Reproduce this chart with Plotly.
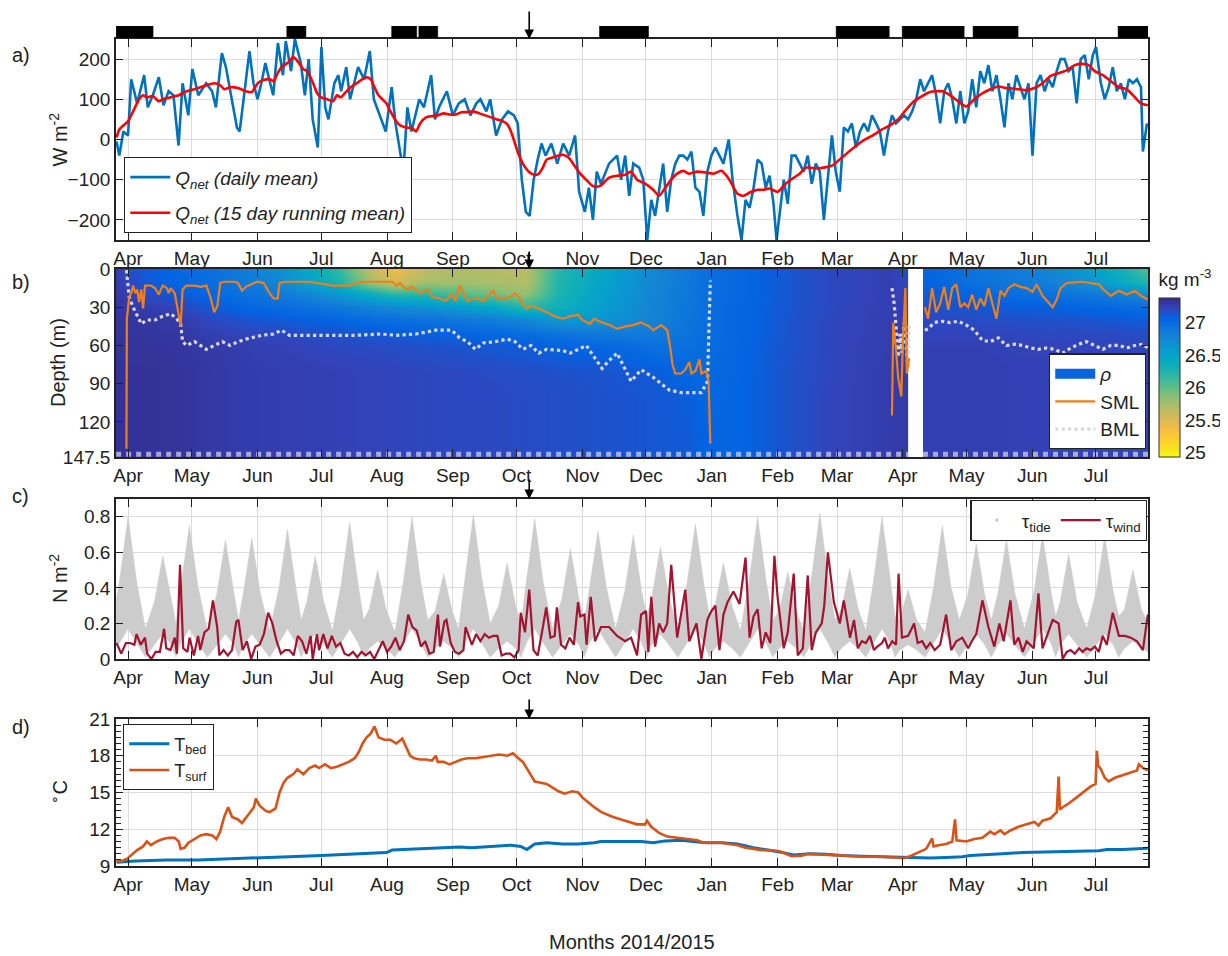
import plotly.graph_objects as go
from datetime import datetime, timedelta

# page is drawn inside a body with an 8px margin, so the figure is 8px smaller than the window on each axis
W, H = 1220, 948
BASE = datetime(2014, 4, 1)
X_START = "2014-03-26 08:00"
X_END = "2015-07-25 12:00"
ARROW_DAY = 189

# ---------------- data (days since 2014-04-01) ----------------
bar_start = [-5.6, 74.8, 124.2, 137.0, 222.1, 333.6, 364.7, 398.1, 466.4]
bar_end = [11.8, 83.8, 136.0, 145.9, 245.2, 358.6, 393.9, 419.3, 480.5]

qnet_days = [-5.4, -4.1, -2.2, 0, 1.5, 4.3, 7.6, 9.3, 11.7, 14.5, 16.7, 19.1, 21.4, 23.8, 25.7, 28.4, 30.3, 33.1,
             36.8, 39.6, 41.4, 44.2, 46.1, 48.9, 51.3, 52.6, 55.4, 57.2, 59.1, 61, 62.8, 64.7, 66.5, 68.4, 70.6, 73,
             74.3, 76.8, 78.6, 81.4, 83.3, 85.1, 87, 89.4, 91.1, 92.9, 94.4, 97.2, 99.1, 100.4, 102.8, 104.6, 106.5,
             108.4, 111.2, 113.9, 115.8, 118.6, 121.4, 124.2, 126, 129.7, 131.6, 133.5, 135.3, 137.2, 139.4, 142.8,
             144.6, 146.5, 150.2, 153, 155.8, 158.6, 161.3, 164.1, 166, 168.8, 170.6, 173.4, 176.2, 179, 181.8, 183.6,
             185.5, 187.4, 189.2, 191.1, 193, 194.8, 196.7, 199.4, 202.2, 205, 207.8, 210.6, 212.5, 215.2, 217.1, 219,
             220.8, 222.8, 226.6, 230.4, 232.3, 234.2, 236.1, 238, 240.8, 242.7, 244.6, 246.5, 248.3, 250.2, 252.1,
             254, 255.9, 257.8, 259.7, 261.6, 263.5, 265.4, 267.3, 269.2, 271, 272.9, 274.8, 276.7, 278.6, 280.5, 283,
             284.8, 287.1, 289, 290.9, 292.8, 294.7, 296.6, 298.5, 300.4, 302.2, 304.1, 305.5, 307, 308.9, 310.8,
             312.6, 314.5, 316.4, 318.3, 320.2, 322.1, 324, 325.9, 327.8, 329.7, 331.6, 333.4, 335.3, 337.2, 339.1,
             341, 342.9, 344.8, 346.7, 348.6, 350.5, 352.4, 354.2, 356.1, 358, 359.9, 361.8, 363.7, 365.6, 367.5,
             369.4, 371.3, 373.2, 375, 376.9, 378.8, 380.7, 382.6, 384.5, 386.4, 388.3, 390.2, 392.1, 394, 395.8,
             397.7, 399.6, 401.5, 403.4, 405.3, 407.2, 409.1, 411, 412.9, 414.8, 416.6, 418.5, 420.4, 422.3, 424.2,
             426.1, 428, 429.9, 431.8, 433.7, 435.6, 437.5, 439.3, 441.2, 443.1, 445, 446.9, 448.8, 450.7, 452.6,
             454.5, 456, 458.3, 460.1, 462, 463.9, 465.8, 467.7, 469.6, 471.5, 473.4, 475.3, 477.2, 478.1, 480]
qnet_vals = [-5, -40, 20, 10, 150, 90, 160, 80, 110, 155, 85, 120, 110, -15, 140, 60, 175, 110,
             140, 120, 80, 215, 180, 100, 30, 20, 150, 220, 140, 100, 140, 190, 150, 110, 240, 160,
             245, 170, 250, 190, 110, 200, 50, -20, 230, 80, 50, 140, 160, 120, 180, 100, 140,
             180, 150, 220, 100, 60, 20, 130, 40, -80, 80, 20, 60, 100, 80, 160,
             50, 80, 120, 60, 90, 100, 60, 90, 100, 70, 100, 10, 50, 70, 60, 40,
             -100, -180, -190, -100, -50, -10, -40, -10, -60, -10, -40, 10, -130, -180, -120, -200,
             -80, -110, -60, -40, -100, -40, -140, -60, -70, -100, -250, -150, -190, -120, -60,
             -180, -100, -60, -40, -40, -50, -30, -120, -130, -190, -80, -40, -20, -40, -60, 0,
             -100, -190, -250, -150, -170, -120, -50, -60, -120, -90, -160, -250, -180, -100, -160,
             -40, -40, -60, -80, -40, -110, -60, -80, -200, -100, 10, -80, -130, 30, 20,
             40, -20, 20, 40, 20, 60, 40, 20, -40, 20, 60, 40, 50, 60, 50,
             70, 100, 150, 120, 140, 160, 110, 40, 120, 140, 100, 40, 120, 40, 70,
             150, 80, 170, 140, 185, 120, 160, 100, 30, 140, 100, 160, 130, 100, 140,
             -40, 140, 160, 120, 150, 130, 170, 200, 200, 170, 180, 90, 200, 210, 150,
             210, 230, 140, 100, 130, 180, 120, 140, 100, 150, 140, 150, 130, -30, 40]

qrun_days = [-5.4, -4.1, -2.2, 0, 2.4, 5.2, 7.1, 8.9, 11.7, 14.5, 16.4, 20.1, 23.9, 27.6, 31.3, 34.1, 36.9, 40.6,
             43.4, 45.3, 48.1, 51.8, 55.5, 58.3, 61.1, 63.9, 66.7, 68.6, 70.5, 72.3, 75.1, 77.9, 79.8, 82.6, 84.4,
             87.2, 89.1, 91, 93.8, 96.6, 98.4, 100.3, 102.1, 104.9, 107.7, 110.5, 112.4, 114.3, 116.1, 118, 119.9,
             121.7, 123.6, 126.4, 128.2, 131, 133.8, 135.7, 137.6, 140.4, 143.2, 145.9, 148.7, 151.5, 154.3, 157.1,
             159.9, 162.7, 165.5, 168.3, 171.1, 173.9, 176.7, 178.6, 180.4, 182.3, 184.2, 186, 188.8, 191.6, 193.5,
             195.4, 197.2, 200, 202.8, 204.7, 207.5, 210.3, 213, 215.8, 218.6, 220.5, 222.8, 226.6, 230.4, 234.2,
             237, 239.8, 243.6, 247.4, 250.2, 253.1, 255.9, 258.7, 261.6, 264.4, 268.2, 272, 275.8, 279.6, 283.3,
             287.1, 290, 292.8, 296.6, 299.4, 302.2, 306, 309.8, 313.6, 316.4, 319.3, 324.9, 331.6, 336.3, 340.1,
             345.7, 351.4, 355.2, 359, 362.8, 366.5, 370.3, 374.1, 377.9, 383.6, 387.3, 391.1, 394.9, 398.7, 402.5,
             406.2, 410, 413.8, 419.5, 423.3, 427, 430.8, 434.6, 438.4, 442.2, 446, 449.7, 452.6, 455.4, 459.2, 463,
             466.8, 470.5, 474.3, 477.2, 480.4]
qrun_vals = [5, 25, 35, 45, 70, 100, 110, 105, 108, 95, 100, 105, 110, 120, 125, 130, 135, 140,
             135, 125, 130, 128, 120, 118, 140, 148, 150, 145, 165, 180, 190, 205, 195, 175, 170,
             140, 115, 105, 100, 95, 110, 105, 115, 130, 140, 150, 155, 150, 130, 110, 100,
             90, 70, 45, 35, 30, 28, 20, 40, 55, 58, 60, 65, 62, 62, 68,
             68, 70, 65, 60, 55, 50, 45, 38, 20, -10, -40, -60, -80, -88, -85,
             -70, -50, -45, -40, -38, -45, -65, -85, -100, -115, -118, -114, -95, -90, -88,
             -80, -100, -110, -125, -140, -120, -100, -85, -78, -85, -80, -82, -85, -78, -100,
             -135, -140, -132, -125, -125, -122, -130, -110, -95, -85, -70, -72, -65, -45, -28,
             -5, 12, 25, 35, 50, 74, 95, 108, 118, 120, 110, 95, 82, 100, 115,
             125, 132, 128, 125, 123, 128, 140, 158, 165, 172, 185, 188, 185, 170, 160, 145,
             130, 125, 105, 90, 85]

# density profiles: columns at rho_days, rows at rho_depths (kg m^-3)
rho_depths = [0, 10, 20, 30, 40, 50, 60, 80, 100, 147.5]
rho_days = [-6, 9, 24, 39, 54, 70, 85, 100, 115, 126, 141, 157, 172, 187, 202, 218, 233, 248, 263, 274,
            284, 299, 315, 330, 343, 358, 367, 374, 389, 404, 419, 435, 450, 465, 481]
rho_profiles = [
    [27.25, 27.27, 27.29, 27.30, 27.31, 27.32, 27.32, 27.33, 27.33, 27.33],
    [27.10, 27.12, 27.18, 27.26, 27.30, 27.31, 27.32, 27.33, 27.33, 27.33],
    [27.02, 27.05, 27.12, 27.22, 27.28, 27.30, 27.31, 27.32, 27.32, 27.32],
    [26.95, 26.98, 27.03, 27.12, 27.20, 27.25, 27.28, 27.29, 27.29, 27.29],
    [26.85, 26.88, 26.95, 27.05, 27.15, 27.22, 27.26, 27.27, 27.27, 27.27],
    [26.70, 26.75, 26.88, 27.00, 27.12, 27.20, 27.24, 27.26, 27.26, 27.26],
    [26.45, 26.50, 26.75, 26.95, 27.08, 27.17, 27.22, 27.25, 27.25, 27.25],
    [26.15, 26.25, 26.60, 26.88, 27.05, 27.15, 27.20, 27.24, 27.24, 27.24],
    [25.60, 25.75, 26.35, 26.78, 27.00, 27.12, 27.19, 27.23, 27.23, 27.23],
    [25.40, 25.55, 26.20, 26.72, 26.98, 27.10, 27.18, 27.22, 27.22, 27.22],
    [25.65, 25.75, 26.20, 26.65, 26.95, 27.08, 27.16, 27.21, 27.21, 27.21],
    [25.70, 25.75, 26.05, 26.55, 26.90, 27.05, 27.14, 27.20, 27.20, 27.20],
    [25.68, 25.72, 25.95, 26.45, 26.85, 27.02, 27.12, 27.19, 27.20, 27.20],
    [25.65, 25.68, 25.80, 26.20, 26.75, 26.98, 27.10, 27.18, 27.19, 27.19],
    [26.20, 26.22, 26.25, 26.32, 26.60, 26.92, 27.06, 27.16, 27.17, 27.17],
    [26.40, 26.42, 26.45, 26.50, 26.60, 26.88, 27.03, 27.15, 27.16, 27.16],
    [26.58, 26.60, 26.62, 26.64, 26.70, 26.85, 27.00, 27.13, 27.15, 27.15],
    [26.75, 26.76, 26.77, 26.78, 26.80, 26.86, 26.95, 27.10, 27.13, 27.13],
    [26.88, 26.88, 26.89, 26.90, 26.91, 26.93, 26.96, 27.04, 27.10, 27.12],
    [26.98, 26.98, 26.98, 26.99, 26.99, 27.00, 27.00, 27.02, 27.04, 27.06],
    [27.02, 27.02, 27.02, 27.03, 27.03, 27.03, 27.04, 27.04, 27.05, 27.05],
    [27.08, 27.08, 27.08, 27.09, 27.09, 27.09, 27.10, 27.10, 27.10, 27.10],
    [27.15, 27.15, 27.15, 27.15, 27.16, 27.16, 27.16, 27.17, 27.17, 27.17],
    [27.20, 27.20, 27.20, 27.20, 27.21, 27.21, 27.21, 27.21, 27.22, 27.22],
    [27.22, 27.22, 27.22, 27.23, 27.23, 27.23, 27.24, 27.24, 27.24, 27.24],
    [27.25, 27.25, 27.25, 27.25, 27.26, 27.26, 27.26, 27.27, 27.27, 27.27],
    [27.18, 27.20, 27.22, 27.24, 27.25, 27.26, 27.27, 27.27, 27.28, 27.28],
    [27.05, 27.08, 27.12, 27.16, 27.20, 27.22, 27.24, 27.25, 27.25, 27.25],
    [26.98, 27.00, 27.08, 27.15, 27.20, 27.22, 27.24, 27.25, 27.25, 27.25],
    [26.90, 26.93, 27.02, 27.12, 27.18, 27.22, 27.24, 27.25, 27.25, 27.25],
    [26.85, 26.88, 26.98, 27.10, 27.17, 27.21, 27.23, 27.24, 27.24, 27.24],
    [26.75, 26.80, 26.95, 27.08, 27.16, 27.20, 27.23, 27.24, 27.24, 27.24],
    [26.60, 26.68, 26.90, 27.05, 27.15, 27.20, 27.22, 27.23, 27.23, 27.23],
    [26.35, 26.45, 26.82, 27.02, 27.13, 27.19, 27.22, 27.23, 27.23, 27.23],
    [26.05, 26.20, 26.70, 26.98, 27.10, 27.18, 27.21, 27.22, 27.22, 27.22],
]
gap_days = [367.5, 374.5]

sml_days = [-0.75, -0.56, 0.56, 1.5, 2.4, 3.4, 4.3, 5.2, 6.2, 7.1, 8, 10.8, 12.7, 14.5, 15.5, 16.4, 18.3, 19.2, 20.1,
            22, 23.9, 24.8, 25.7, 27.6, 31.3, 34.1, 36.9, 38.8, 40.6, 42.1, 43.4, 45.3, 50, 51.8, 53.7, 55.5, 59.3,
            61.1, 63.9, 66.7, 68.6, 70.5, 71.4, 74.2, 85.4, 89.1, 96.6, 104, 107.7, 111.5, 124.5, 126.4, 128.2,
            131, 133.8, 137.6, 141.3, 143.2, 146.9, 149.7, 152.5, 154.3, 156.2, 158.1, 159.9, 163.7, 167.4, 169.2,
            172, 173.9, 176.7, 180.4, 182.3, 184.2, 186, 187.9, 189.8, 193.5, 197.2, 201, 204.7, 208.4, 212.1, 214,
            217.7, 219.6, 223.3, 227, 230.4, 234.2, 238, 241.7, 245.5, 247.4, 251.2, 254, 255.3, 256.5, 257.8,
            260.6, 262.5, 264.4, 265.4, 267.3, 269.2, 270.1, 272.4, 273.5, 274.3, None,
            359.9, 360.5, 361.8, 362.8, 364.3, 365, 366.2, 366.9, 368, None,
            375.4, 376.9, 378.8, 380.7, 382.6, 384.5, 386.4, 388.3, 390.2, 392.1, 394, 395.8, 397.7, 399.6, 401.5,
            403.4, 405.3, 407.2, 409.1, 411, 412.9, 414.8, 417.6, 420.4, 423.3, 426.1, 428, 430.8, 433.7, 435.6,
            437.5, 439.3, 442.2, 449.7, 457.3, 460.1, 463, 466.8, 470.5, 474.3, 477.2, 480.4]
sml_depth = [141, 39, 22, 19, 13, 19, 16, 26, 16, 31, 13, 13, 15, 20, 16, 13, 15, 19, 15,
             19, 36, 45, 16, 13, 13, 14, 13, 22, 34, 29, 11, 10, 10, 11, 17, 14, 11,
             10, 11, 19, 23, 23, 11, 10, 10, 11, 13, 13, 11, 10, 10, 13, 11,
             16, 14, 19, 16, 22, 23, 25, 20, 25, 13, 19, 25, 23, 25, 22,
             17, 23, 23, 22, 19, 22, 28, 31, 29, 31, 34, 37, 39, 37, 36, 40,
             43, 39, 42, 44, 47, 45, 44, 42, 45, 48, 44, 48, 60, 75, 82,
             82, 79, 73, 82, 80, 71, 82, 80, 88, 137, None,
             115, 42, 63, 85, 100, 57, 15, 82, 70, None,
             30, 39, 15, 34, 27, 14, 32, 15, 12, 30, 27, 30, 20, 32, 23,
             29, 15, 26, 39, 17, 21, 15, 12, 14, 15, 18, 12, 21, 27, 30,
             24, 15, 11, 10, 12, 17, 21, 17, 20, 17, 21, 24]

bml_days = [-0.75, 0.56, 2.4, 4.3, 6.2, 8.9, 12.7, 16.4, 20.1, 22.9, 24.8, 25.7, 27.6, 31.3, 36.9, 40.6, 44.4, 48.1,
            51.8, 55.5, 63, 68.6, 72.3, 76, 89.1, 107.7, 118.9, 126.4, 135.7, 145, 152.5, 156.2, 159.9, 163.7, 167.4,
            173, 178.6, 182.3, 186, 189.8, 193.5, 197.2, 204.7, 208.4, 215.9, 219.6, 223.3, 226.5, 230.4, 237,
            241.7, 247.4, 255, 260.6, 270.1, 273, 273.9, 274.3, None,
            359.9, 360.9, 361.8, 362.8, 363.7, 364.6, 365.6, 366.5, 367.5, 368, None,
            375.4, 376.9, 379.8, 383.6, 387.3, 391.1, 394.9, 398.7, 402.5, 406.2, 410, 413.8, 417.6, 421.4, 425.2,
            428.9, 432.7, 436.5, 440.3, 444.1, 447.9, 451.6, 455.4, 459.2, 463, 466.8, 470.5, 474.3, 478.1, 480.4]
bml_depth = [1, 22, 30, 36, 43, 40, 40, 37, 35, 39, 43, 57, 60, 57, 63, 60, 57, 60,
             57, 55, 52, 51, 48, 52, 52, 52, 51, 52, 51, 48, 48, 54, 57, 63, 58,
             57, 55, 57, 63, 60, 66, 63, 64, 66, 60, 69, 78, 72, 66, 88,
             79, 85, 95, 97, 97, 88, 40, 9, None,
             15, 27, 45, 69, 51, 66, 42, 57, 79, 42, None,
             48, 47, 42, 41, 42, 41, 44, 48, 56, 57, 54, 60, 59, 60, 62,
             63, 62, 63, 66, 62, 59, 57, 60, 63, 60, 60, 62, 60, 59, 62]

bed_mark_days = [-5.6, 367.5, None, 374.5, 480.5]
bed_mark_depth = [145.3, 145.3, None, 145.3, 145.3]

tide_days = [-5.6, -4, 0, 4, 8.2, 12.4, 16.4, 20.4, 22.6, 24.9, 28.9, 32.9, 37.4, 41.9, 45.9, 49.9, 52.1, 54.3,
             58.3, 62.3, 66.7, 71.1, 75.1, 79.1, 81.6, 84.2, 88.2, 92.2, 96.3, 100.4, 104.4, 108.4, 111, 113.6,
             117.6, 121.6, 125.7, 129.8, 133.8, 137.8, 141.2, 144.7, 148.7, 152.7, 155.7, 158.7, 162.7, 166.7,
             170.6, 174.6, 178.6, 182.6, 185.1, 187.6, 191.6, 195.6, 200, 204.4, 208.4, 212.4, 214.9, 217.4, 221.4,
             225.4, 229.7, 234, 238, 242, 244.4, 246.8, 250.8, 254.8, 259, 263.3, 267.3, 271.3, 273.9, 276.5,
             280.5, 284.5, 288.5, 292.6, 296.6, 300.6, 303.7, 306.8, 310.8, 314.8, 318.3, 321.9, 325.9, 329.9, 333,
             336, 340, 344, 347.6, 351.2, 355.2, 359.2, 361.3, 363.5, 367.5, 371.5, 375.5, 379.6, 383.6, 387.6,
             391.6, 395.6, 399.6, 403.6, 406.7, 409.8, 413.8, 417.8, 422.3, 426.8, 430.8, 434.8, 437, 439.1, 443.1,
             447.1, 451.6, 456.1, 460.1, 464.1, 466.7, 469.4, 473.4, 477.4, 480.5]
tide_upper = [0.33, 0.44, 0.80, 0.44, 0.17, 0.32, 0.58, 0.32, 0.20, 0.41, 0.75, 0.41, 0.16, 0.37, 0.67, 0.37, 0.22,
              0.37, 0.68, 0.37, 0.16, 0.40, 0.73, 0.40, 0.22, 0.32, 0.58, 0.32, 0.16, 0.42, 0.77, 0.42, 0.22, 0.28,
              0.50, 0.28, 0.15, 0.44, 0.80, 0.44, 0.22, 0.27, 0.48, 0.27, 0.17, 0.45, 0.81, 0.45,
              0.20, 0.30, 0.54, 0.30, 0.20, 0.43, 0.79, 0.43, 0.17, 0.34, 0.62, 0.34, 0.22, 0.40, 0.72,
              0.40, 0.17, 0.38, 0.70, 0.38, 0.24, 0.35, 0.63, 0.35, 0.17, 0.42, 0.76, 0.42, 0.24, 0.30,
              0.54, 0.30, 0.16, 0.44, 0.80, 0.44, 0.22, 0.27, 0.49, 0.27, 0.16, 0.45, 0.82, 0.45, 0.22,
              0.28, 0.51, 0.28, 0.16, 0.44, 0.80, 0.44, 0.24, 0.22, 0.39, 0.22, 0.15, 0.41, 0.75, 0.41,
              0.22, 0.36, 0.65, 0.36, 0.22, 0.37, 0.67, 0.37, 0.17, 0.38, 0.70, 0.38, 0.24, 0.32, 0.59,
              0.32, 0.17, 0.38, 0.69, 0.38, 0.24, 0.28, 0.50, 0.28, 0.20]
tide_lower = [0.08, 0.09, 0.17, 0.09, 0.01, 0.08, 0.14, 0.08, 0.01, 0.09, 0.17, 0.09, 0.01, 0.08, 0.14, 0.08, 0.01,
              0.08, 0.14, 0.08, 0.01, 0.09, 0.17, 0.09, 0.01, 0.08, 0.14, 0.08, 0.01, 0.09, 0.17, 0.09, 0.01, 0.06,
              0.10, 0.06, 0.01, 0.09, 0.17, 0.09, 0.01, 0.06, 0.10, 0.06, 0.01, 0.09, 0.17, 0.09,
              0.01, 0.06, 0.10, 0.06, 0.01, 0.09, 0.17, 0.09, 0.01, 0.08, 0.14, 0.08, 0.01, 0.09, 0.17,
              0.09, 0.01, 0.09, 0.17, 0.09, 0.01, 0.08, 0.14, 0.08, 0.01, 0.09, 0.17, 0.09, 0.01, 0.06,
              0.10, 0.06, 0.01, 0.09, 0.17, 0.09, 0.01, 0.06, 0.10, 0.06, 0.01, 0.09, 0.17, 0.09, 0.01,
              0.06, 0.10, 0.06, 0.01, 0.09, 0.17, 0.09, 0.01, 0.05, 0.08, 0.05, 0.01, 0.09, 0.17, 0.09,
              0.01, 0.08, 0.14, 0.08, 0.01, 0.08, 0.14, 0.08, 0.01, 0.09, 0.17, 0.09, 0.01, 0.08, 0.14,
              0.08, 0.01, 0.08, 0.14, 0.08, 0.01, 0.06, 0.10, 0.06, 0.04]

wind_days = [-5.4, -3.2, -1, 1, 3, 4, 6, 8, 9, 11, 13, 15, 17, 18, 20, 22, 23, 24.5, 26, 28, 29, 31, 33, 34, 36, 38,
             40, 42, 43, 45, 47, 49, 51, 52, 54, 56, 58, 60, 62, 64, 66, 68, 70, 72, 74, 76, 78, 80, 82, 84, 86, 87,
             89, 90, 92, 94, 96, 98, 100, 102, 104, 106, 108, 110, 112, 114, 116, 118, 120, 122, 124, 126, 128, 130,
             132, 134, 136, 138, 140, 142, 144, 146, 147, 149, 150, 152, 154, 156, 158, 159, 161, 162, 164, 166,
             168, 170, 172, 174, 176, 178, 180, 182, 184, 185, 187, 189, 191, 193, 195, 197, 199, 201, 202, 204,
             206, 208, 210, 212, 213, 215, 216, 218, 220, 222.8, 226.6, 230.4, 234.2, 237, 239.8, 241.7, 244,
             245.1, 246.5, 248.3, 250.2, 252.1, 254, 255.9, 258.7, 260.6, 262.5, 264.4, 267.8, 270.1, 272.9, 274.8,
             276.7, 278.6, 280.5, 282.4, 285.2, 288.1, 290.9, 292.8, 294.7, 296.6, 298.5, 300.4, 302.6, 304.5, 306,
             308.9, 310.8, 313.6, 315.5, 317.9, 320.2, 322.1, 324, 326.8, 328, 329.7, 332.5, 335.3, 337.2, 340.1,
             342, 343.8, 345.7, 347.6, 349.5, 351.4, 353, 355.2, 356.5, 358, 360, 361.8, 363, 364.6, 367.5, 370.3,
             372, 374.1, 376, 377.9, 380, 382.6, 385.4, 387.8, 390.2, 393, 395.8, 397.5, 399.6, 402.5, 405.3, 408.1,
             410.5, 412.5, 415.7, 417.5, 419.5, 421.5, 423.3, 426.7, 428.9, 430.8, 433.7, 435.6, 438.4, 440.3, 442.2,
             444, 446, 448, 449.7, 451.5, 453.5, 455.5, 457.3, 459.2, 461.1, 463.9, 466.8, 469.6, 472.4, 475.3,
             478.1, 480.4]
wind_vals = [0.09, 0.03, 0.09, 0.09, 0.08, 0.14, 0.08, 0.12, 0.03, 0.0, 0.04, 0.04, 0.17, 0.06, 0.05, 0.12, 0.03,
             0.53, 0.06, 0.04, 0.12, 0.02, 0.13, 0.05, 0.15, 0.17, 0.33, 0.18, 0.02, 0.05, 0.02, 0.05, 0.21, 0.22,
             0.05, 0.10, 0.0, 0.07, 0.08, 0.14, 0.26, 0.20, 0.10, 0.03, 0.05, 0.05, 0.02, 0.13, 0.10, 0.03, 0.13,
             0.0, 0.14, 0.05, 0.14, 0.06, 0.13, 0.07, 0.09, 0.03, 0.02, 0.04, 0.01, 0.04, 0.02, 0.04, 0.0, 0.05,
             0.10, 0.04, 0.07, 0.12, 0.05, 0.10, 0.25, 0.18, 0.16, 0.07, 0.10, 0.03, 0.04, 0.25, 0.07, 0.21, 0.22,
             0.09, 0.04, 0.03, 0.05, 0.18, 0.12, 0.08, 0.14, 0.10, 0.14, 0.12, 0.13, 0.13, 0.02, 0.03, 0.03, 0.01,
             0.05, 0.26, 0.15, 0.39, 0.05, 0.02, 0.15, 0.29, 0.12, 0.13, 0.29, 0.08, 0.06, 0.12, 0.08, 0.32, 0.24,
             0.25, 0.08, 0.35, 0.10, 0.18, 0.18, 0.13, 0.10, 0.12, 0.02, 0.25, 0.27, 0.04, 0.35, 0.07, 0.20, 0.15,
             0.20, 0.53, 0.12, 0.25, 0.39, 0.10, 0.20, 0.0, 0.22, 0.27, 0.30, 0.05, 0.25, 0.32, 0.38, 0.31, 0.57,
             0.12, 0.24, 0.28, 0.06, 0.15, 0.09, 0.58, 0.35, 0.06, 0.15, 0.48, 0.02, 0.06, 0.47, 0.05, 0.15, 0.20,
             0.30, 0.60, 0.32, 0.20, 0.33, 0.12, 0.22, 0.06, 0.10, 0.09, 0.13, 0.05, 0.07, 0.09, 0.12, 0.06, 0.10,
             0.08, 0.48, 0.12, 0.13, 0.20, 0.09, 0.10, 0.06, 0.09, 0.05, 0.08, 0.25, 0.05, 0.10, 0.12, 0.06, 0.10,
             0.14, 0.33, 0.18, 0.07, 0.20, 0.10, 0.33, 0.08, 0.12, 0.04, 0.10, 0.06, 0.37, 0.06, 0.15, 0.22, 0.20,
             0.0, 0.04, 0.05, 0.03, 0.06, 0.04, 0.06, 0.05, 0.07, 0.04, 0.13, 0.08, 0.26, 0.13, 0.13, 0.12, 0.10,
             0.05, 0.25, 0.20]

tsurf_days = [-5.4, -3.2, -0.4, 1.5, 4.3, 7.1, 8.9, 10.8, 13.6, 16.4, 19.2, 22, 23.9, 24.8, 26.7, 28.5, 31.3, 34.1,
              36.9, 39.7, 41.6, 43.4, 45.3, 47.2, 49, 51.8, 53.7, 56.5, 59.3, 60.2, 62.1, 64.9, 66.7, 69.5, 71.4,
              73.3, 75.1, 77.9, 79.8, 82.6, 85.4, 88.2, 90, 92.8, 95.6, 98.4, 101.2, 104, 106.8, 108.7, 110.5, 112.4,
              114.3, 116.1, 118, 120.8, 123.6, 126.4, 129.2, 131, 132.9, 134.8, 137.6, 140.4, 143.2, 145, 145.9,
              148.7, 151.5, 154.3, 157.1, 159.9, 163.7, 167.4, 171.1, 174.8, 178.6, 181.4, 183.2, 186, 188.8, 191.6,
              194.4, 197.2, 200, 202.8, 205.6, 209.3, 212.1, 214, 216.8, 219.6, 223, 228.5, 234.2, 239.8, 243.6,
              244.5, 246.5, 250.2, 254, 258.7, 263.5, 268.2, 271, 274.8, 279.6, 283.3, 287.1, 290.9, 294.7, 298.5,
              302.2, 307, 309.8, 312.6, 317.4, 320.2, 324.9, 330.6, 336.3, 342, 347.6, 355.2, 362.8, 365.6, 368.4,
              372.2, 376, 378.8, 379.5, 381.7, 385.4, 388.3, 389.6, 390.3, 394.9, 398.7, 402.5, 406.2, 408.1, 411,
              412.9, 415.7, 419.5, 423.3, 427, 428.9, 430.8, 434.6, 437.5, 438.4, 439, 440.3, 443.1, 446.9, 449.7,
              453.5, 455.8, 456.4, 457, 458.3, 460.1, 462, 464.9, 468.7, 472.4, 475.3, 476.2, 478.1, 480.4]
tsurf_vals = [9.4, 9.4, 9.6, 9.9, 10.3, 10.6, 11.0, 10.7, 11.0, 11.2, 11.3, 11.3, 11.0, 10.4, 10.5, 10.9, 11.2, 11.5,
              11.6, 11.5, 11.2, 11.8, 13.0, 13.8, 13.0, 12.8, 12.5, 13.2, 13.8, 14.5, 13.9, 13.5, 13.4, 13.7, 15.0,
              15.8, 16.2, 16.5, 16.9, 16.5, 17.0, 17.2, 17.0, 17.3, 17.0, 17.1, 17.3, 17.5, 17.8, 18.3, 19.0, 19.5,
              19.8, 20.4, 19.5, 19.3, 19.3, 19.0, 19.4, 18.7, 18.0, 17.8, 17.7, 17.7, 17.6, 18.0, 17.5,
              17.5, 17.3, 17.5, 17.7, 17.8, 17.8, 17.9, 18.0, 18.1, 18.0, 18.2, 17.9, 17.5, 16.7, 15.9,
              15.8, 15.7, 15.4, 15.1, 14.9, 15.1, 15.0, 14.6, 14.2, 13.8, 13.4, 13.0, 12.7, 12.4, 12.4,
              12.7, 12.2, 11.7, 11.4, 11.3, 11.2, 11.1, 10.9, 10.9, 10.9, 10.8, 10.7, 10.5, 10.4, 10.3,
              10.3, 10.2, 10.0, 9.8, 9.85, 10.0, 9.95, 9.9, 9.8, 9.75, 9.75, 9.75, 9.7, 9.65, 9.8,
              10.1, 10.4, 11.25, 10.6, 10.7, 10.8, 11.0, 12.8, 11.1, 11.0, 11.2, 11.3, 11.8, 11.6, 11.9,
              11.6, 11.9, 12.2, 12.4, 12.6, 12.3, 12.7, 12.9, 13.4, 16.3, 13.6, 13.8, 14.1, 14.6, 15.0,
              15.5, 15.7, 18.4, 17.2, 16.9, 16.2, 15.9, 16.2, 16.4, 16.6, 16.8, 17.3, 17.0, 16.8]

tbed_days = [-5.4, 3.4, 18.3, 33.2, 48.1, 61.1, 76, 91, 104, 118.9, 121.7, 124.5, 137.6, 148.7, 156.2, 161.8, 169.2,
             180.4, 185.1, 187.9, 191.6, 197.2, 204.7, 212.1, 219.6, 222.8, 232.3, 241.7, 247.4, 253.1, 260.6, 268.2,
             272, 279.6, 287.1, 294.7, 302.2, 309.8, 313.6, 321.2, 328.7, 336.3, 345.7, 355.2, 366.5, 372.2, 377.9,
             385.4, 393, 396.8, 404.4, 411.9, 421.4, 430.8, 440.3, 449.7, 457.3, 461.1, 468.7, 480.4]
tbed_vals = [9.3, 9.4, 9.5, 9.5, 9.6, 9.65, 9.75, 9.85, 9.95, 10.05, 10.1, 10.3, 10.4, 10.5, 10.55, 10.5, 10.6,
             10.7, 10.6, 10.35, 10.8, 10.9, 10.8, 10.8, 10.9, 11.0, 11.0, 11.0, 10.9, 11.05, 11.1, 11.0,
             10.9, 10.9, 10.8, 10.5, 10.3, 10.05, 9.9, 10.0, 9.95, 9.85, 9.8, 9.75, 9.75, 9.7, 9.65,
             9.7, 9.75, 9.85, 9.95, 10.0, 10.1, 10.15, 10.15, 10.2, 10.25, 10.35, 10.35, 10.45]

rho_ticks = [25, 25.5, 26, 26.5, 27]


# ---------------- helpers ----------------
def to_dates(days):
    return [None if d is None else BASE + timedelta(days=d) for d in days]


def dom(top_px, bot_px):
    return [1 - bot_px / H, 1 - top_px / H]


def py(px):
    return 1 - px / H


ML, MR = 108, 80
PW = W - ML - MR


def pxx(px):
    return (px - ML) / PW


# panel pixel boxes (top, bottom) in figure pixels
BOX_BAR = (18, 30)
BOX_A = (31, 232)
BOX_B = (261, 449)
BOX_C = (491, 651)
BOX_D = (711, 858)

parula = [
    (0.000, (0.2081, 0.1663, 0.5292)), (0.063, (0.1959, 0.2645, 0.7279)), (0.127, (0.0117, 0.3875, 0.8820)),
    (0.190, (0.0498, 0.4586, 0.8641)), (0.254, (0.0793, 0.5200, 0.8312)), (0.317, (0.0343, 0.5966, 0.8199)),
    (0.381, (0.0228, 0.6535, 0.7768)), (0.444, (0.0843, 0.6928, 0.7062)), (0.508, (0.2178, 0.7250, 0.6193)),
    (0.571, (0.3953, 0.7459, 0.5244)), (0.635, (0.5709, 0.7485, 0.4494)), (0.698, (0.7184, 0.7411, 0.3905)),
    (0.762, (0.8507, 0.7299, 0.3360)), (0.825, (0.9739, 0.7314, 0.2666)), (0.889, (0.9880, 0.8066, 0.1794)),
    (0.952, (0.9589, 0.8949, 0.1132)), (1.000, (0.9763, 0.9831, 0.0538)),
]
cscale = sorted([(round(1 - t, 3), "rgb(%d,%d,%d)" % tuple(int(round(c * 255)) for c in rgb)) for t, rgb in parula])

FONT = "Liberation Sans, Arial, sans-serif"
TXT = "#222222"

fig = go.Figure()

# ---- deployment bars (top strip) ----
bx, byy = [], []
for s, e in zip(bar_start, bar_end):
    bx += [s, s, e, e, s, None]
    byy += [0, 1, 1, 0, 0, None]
fig.add_trace(go.Scatter(x=to_dates(bx), y=byy, xaxis="x5", yaxis="y5", mode="lines", fill="toself",
                         fillcolor="black", line=dict(color="black", width=0.5), showlegend=False,
                         hoverinfo="skip"))

# ---- panel a ----
fig.add_trace(go.Scatter(x=to_dates(qnet_days), y=qnet_vals, xaxis="x", yaxis="y", mode="lines",
                         line=dict(color="#0072BD", width=2.6), legendgroup="qa",
                         name="<i>Q<sub>net</sub> (daily mean)</i>", legend="legend"))
fig.add_trace(go.Scatter(x=to_dates(qrun_days), y=qrun_vals, xaxis="x", yaxis="y", mode="lines",
                         line=dict(color="#FF0000", width=2.6, shape="spline", smoothing=0.6), legendgroup="qb",
                         name="<i>Q<sub>net</sub> (15 day running mean)</i>", legend="legend"))

# ---- panel b ----
zT = [[rho_profiles[j][i] for j in range(len(rho_days))] for i in range(len(rho_depths))]
hb = dom(*BOX_B)
fig.add_trace(go.Heatmap(x=to_dates(rho_days), y=rho_depths, z=zT, xaxis="x2", yaxis="y2",
                         colorscale=cscale, zmin=24.93, zmax=27.38, zsmooth="best", showscale=True,
                         hoverinfo="skip",
                         colorbar=dict(x=1.0, xanchor="left", xpad=11, ypad=0,
                                       y=(hb[0] + hb[1]) / 2, yanchor="middle",
                                       len=hb[1] - hb[0], lenmode="fraction",
                                       thickness=21, outlinecolor="#333", outlinewidth=1,
                                       tickvals=rho_ticks, ticktext=[str(v) for v in rho_ticks],
                                       ticks="", tickfont=dict(size=19, color=TXT, family=FONT),
                                       title=dict(text="kg m<sup>-3</sup>", side="top",
                                                  font=dict(size=19, color=TXT, family=FONT)))))
gx = [gap_days[0], gap_days[0], gap_days[1], gap_days[1], gap_days[0]]
fig.add_trace(go.Scatter(x=to_dates(gx), y=[0, 147.5, 147.5, 0, 0], xaxis="x2", yaxis="y2", mode="lines",
                         fill="toself", fillcolor="white", line=dict(color="white", width=0),
                         showlegend=False, hoverinfo="skip"))
fig.add_trace(go.Scatter(x=to_dates(bed_mark_days), y=bed_mark_depth, xaxis="x2", yaxis="y2", mode="lines",
                         line=dict(color="rgba(215,215,235,0.7)", width=5, dash="dot"),
                         showlegend=False, hoverinfo="skip"))
fig.add_trace(go.Scatter(x=[None], y=[None], xaxis="x2", yaxis="y2", mode="lines",
                         line=dict(color="#0A64DC", width=22), name="<i>ρ</i>", legend="legend2", legendrank=1))
fig.add_trace(go.Scatter(x=to_dates(bml_days), y=bml_depth, xaxis="x2", yaxis="y2", mode="lines",
                         line=dict(color="#D9D9D9", width=3.2, dash="dot"), name="BML", legend="legend2",
                         legendrank=3, connectgaps=False))
fig.add_trace(go.Scatter(x=to_dates(sml_days), y=sml_depth, xaxis="x2", yaxis="y2", mode="lines",
                         line=dict(color="#EE7F1A", width=2.2), name="SML", legend="legend2",
                         legendrank=2, connectgaps=False))

# ---- panel c ----
fig.add_trace(go.Scatter(x=to_dates(tide_days), y=tide_lower, xaxis="x3", yaxis="y3", mode="lines",
                         line=dict(color="#CCCCCC", width=0.5), showlegend=False, hoverinfo="skip"))
fig.add_trace(go.Scatter(x=to_dates(tide_days), y=tide_upper, xaxis="x3", yaxis="y3", mode="lines",
                         line=dict(color="#CCCCCC", width=0.5), fill="tonexty", fillcolor="#CCCCCC",
                         showlegend=False, hoverinfo="skip"))
fig.add_trace(go.Scatter(x=[None], y=[None], xaxis="x3", yaxis="y3", mode="markers",
                         marker=dict(color="#BBBBBB", size=3), name="τ<sub>tide</sub>", legend="legend3"))
fig.add_trace(go.Scatter(x=to_dates(wind_days), y=wind_vals, xaxis="x3", yaxis="y3", mode="lines",
                         line=dict(color="#A2142F", width=2.2), name="τ<sub>wind</sub>", legend="legend3"))

# ---- panel d ----
fig.add_trace(go.Scatter(x=to_dates(tbed_days), y=tbed_vals, xaxis="x4", yaxis="y4", mode="lines",
                         line=dict(color="#0072BD", width=3), name="T<sub>bed</sub>", legend="legend4"))
fig.add_trace(go.Scatter(x=to_dates(tsurf_days), y=tsurf_vals, xaxis="x4", yaxis="y4", mode="lines",
                         line=dict(color="#D95319", width=2.6), name="T<sub>surf</sub>", legend="legend4"))

# ---------------- axes ----------------
xcommon = dict(type="date", range=[X_START, X_END], dtick="M1", tick0="2014-04-01", tickformat="%b",
               ticks="inside", ticklen=8, tickwidth=1.4, tickcolor="#222", showline=True, linecolor="#222",
               linewidth=1.6, mirror="allticks", gridcolor="#DCDCDC", gridwidth=1, zeroline=False,
               automargin=False, domain=[0, 1], tickfont=dict(size=19, color=TXT, family=FONT))
ycommon = dict(ticks="inside", ticklen=7, tickwidth=1.4, tickcolor="#222", showline=True, linecolor="#222",
               linewidth=1.6, mirror="allticks", gridcolor="#DCDCDC", gridwidth=1, zeroline=False,
               automargin=False, tickfont=dict(size=19, color=TXT, family=FONT))

layout = dict(
    width=W, height=H, paper_bgcolor="white", plot_bgcolor="white",
    margin=dict(l=ML, r=MR, t=0, b=0, autoexpand=False),
    font=dict(family=FONT, color=TXT, size=19),
    xaxis=dict(xcommon, anchor="y", showgrid=True),
    xaxis2=dict(xcommon, anchor="y2", showgrid=False, matches="x", layer="above traces"),
    xaxis3=dict(xcommon, anchor="y3", showgrid=True, matches="x"),
    xaxis4=dict(xcommon, anchor="y4", showgrid=True, matches="x"),
    xaxis5=dict(type="date", range=[X_START, X_END], matches="x", anchor="y5", visible=False, domain=[0, 1]),
    yaxis=dict(ycommon, domain=dom(*BOX_A), anchor="x", range=[-250, 250],
               tickvals=[-200, -100, 0, 100, 200]),
    yaxis2=dict(ycommon, domain=dom(*BOX_B), anchor="x2", range=[147.5, 0], showgrid=False,
                tickvals=[0, 30, 60, 90, 120, 147.5], ticktext=["0", "30", "60", "90", "120", "147.5"]),
    yaxis3=dict(ycommon, domain=dom(*BOX_C), anchor="x3", range=[0, 0.9],
                tickvals=[0, 0.2, 0.4, 0.6, 0.8], ticktext=["0", "0.2", "0.4", "0.6", "0.8"]),
    yaxis4=dict(ycommon, domain=dom(*BOX_D), anchor="x4", range=[9, 21], tickvals=[9, 12, 15, 18, 21],
                minor=dict(dtick=0.5, tick0=9, ticks="inside", ticklen=5, tickcolor="#222", showgrid=False)),
    yaxis5=dict(domain=dom(*BOX_BAR), anchor="x5", range=[0, 1], visible=False, fixedrange=True),
    showlegend=True,
)

ha, hc, hd = dom(*BOX_A), dom(*BOX_C), dom(*BOX_D)
legbox = dict(bgcolor="white", bordercolor="#222", borderwidth=1.3, xref="paper", yref="paper",
              itemclick=False, itemwidth=40)
layout["legend"] = dict(legbox, x=pxx(116), y=ha[0] + 0.035 * (ha[1] - ha[0]), xanchor="left", yanchor="bottom",
                        font=dict(size=19, color=TXT, family=FONT), traceorder="grouped", tracegroupgap=8)
layout["legend2"] = dict(legbox, x=0.998, y=hb[0] + 0.04 * (hb[1] - hb[0]), xanchor="right", yanchor="bottom",
                         font=dict(size=19, color=TXT, family=FONT), traceorder="normal", tracegroupgap=0)
layout["legend3"] = dict(legbox, x=0.9995, y=hc[1] - 0.006 * (hc[1] - hc[0]), xanchor="right", yanchor="top",
                         orientation="h", font=dict(size=19, color=TXT, family=FONT), traceorder="normal",
                         tracegroupgap=0)
layout["legend4"] = dict(legbox, x=pxx(115), y=hd[1] - 0.035 * (hd[1] - hd[0]), xanchor="left", yanchor="top",
                         font=dict(size=18, color=TXT, family=FONT), traceorder="normal", tracegroupgap=0)

ann = []
arrow_date = BASE + timedelta(days=ARROW_DAY)
for xr, yr, ay in (("x", "y domain", -(BOX_A[0] - 2)), ("x2", "y2 domain", -19), ("x3", "y3 domain", -21),
                   ("x4", "y4 domain", -21)):
    ann.append(dict(x=arrow_date, y=1, xref=xr, yref=yr, ax=0, ay=ay, axref="pixel", ayref="pixel",
                    showarrow=True, arrowhead=2, arrowsize=1.2, arrowwidth=1.6, arrowcolor="black", text=""))
for lab, ypx in (("a)", 47), ("b)", 274), ("c)", 488), ("d)", 719)):
    ann.append(dict(text=lab, x=pxx(2), y=py(ypx), xref="paper", yref="paper", xanchor="left",
                    yanchor="middle", showarrow=False, font=dict(size=20, color=TXT, family=FONT)))
for lab, box in (("W m<sup>-2</sup>", BOX_A), ("Depth (m)", BOX_B), ("N m<sup>-2</sup>", BOX_C),
                 ("<sup>∘</sup>C", BOX_D)):
    ann.append(dict(text=lab, x=pxx(50), y=py((box[0] + box[1]) / 2), xref="paper", yref="paper",
                    xanchor="center", yanchor="middle", textangle=-90, showarrow=False,
                    font=dict(size=20, color=TXT, family=FONT)))
ann.append(dict(text="Months 2014/2015", x=0.5, y=py(934), xref="paper", yref="paper", xanchor="center",
                yanchor="middle", showarrow=False, font=dict(size=20, color=TXT, family=FONT)))
layout["annotations"] = ann

fig.update_layout(**layout)
fig.write_html("out.html")
